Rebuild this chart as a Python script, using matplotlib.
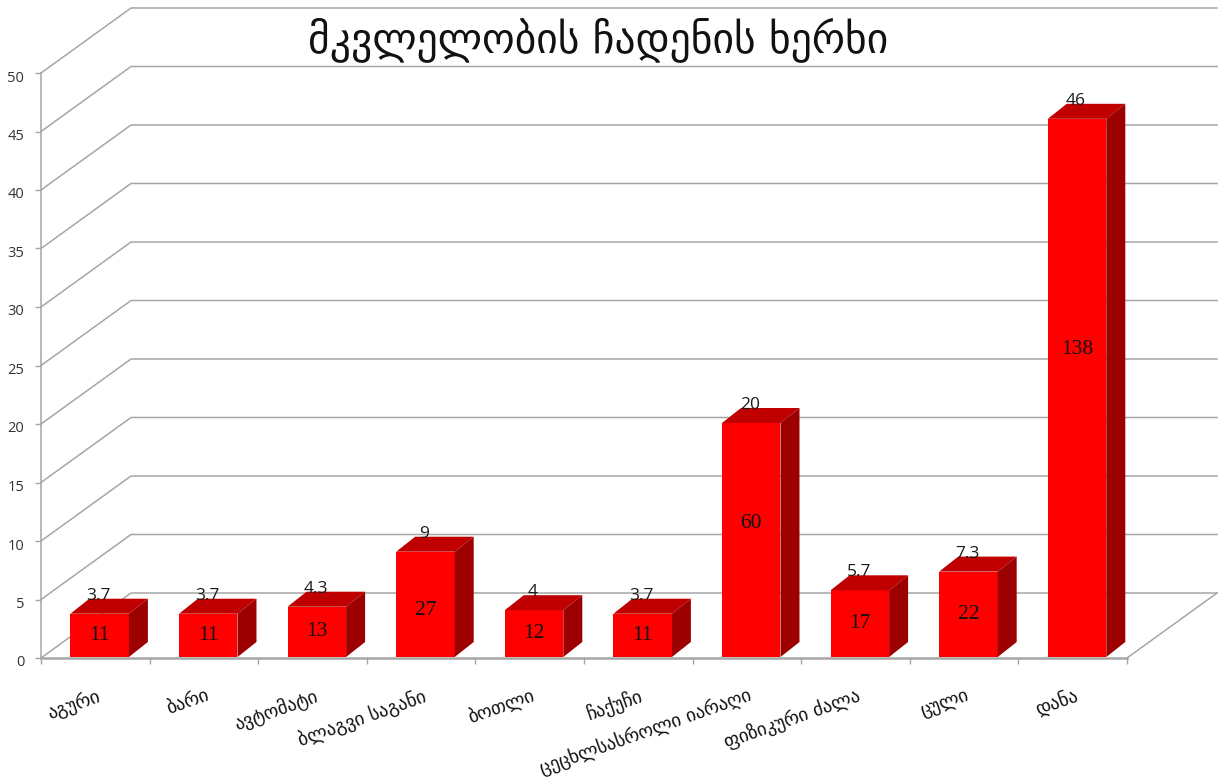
import numpy as np
from matplotlib import pyplot as plt
from matplotlib.patches import Polygon
from matplotlib.transforms import ScaledTranslation

categories = ['აგური', 'ბარი', 'ავტომატი', 'ბლაგვი საგანი', 'ბოთლი', 'ჩაქუჩი',
              'ცეცხლსასროლი იარაღი', 'ფიზიკური ძალა', 'ცული', 'დანა']
percents = [3.7, 3.7, 4.3, 9, 4, 3.7, 20, 5.7, 7.3, 46]
counts = [11, 11, 13, 27, 12, 11, 60, 17, 22, 138]
y_ticks = [0, 5, 10, 15, 20, 25, 30, 35, 40, 45, 50]
title = 'მკვლელობის ჩადენის ხერხი'

# how far the inner numbers sit from the middle of the bar (pixels)
inner_shift_px = [0, 0, 0, -6, 0, 0, 16, 0, 0, 38]

W, H = 1219, 780
LEFT, RIGHT, BOTTOM, TOP = 41, 1127, 658, 73
GRID = '#a6a6a6'

fig = plt.figure(figsize=(W / 100, H / 100), dpi=100)
ax = fig.add_axes([LEFT / W, (H - BOTTOM) / H, (RIGHT - LEFT) / W, (BOTTOM - TOP) / H])
ax.set_xlim(0, 10)
ax.set_ylim(0, 50)
ax.patch.set_visible(False)

# one pixel in data units
px_x = 10 / (RIGHT - LEFT)
px_y = 50 / (BOTTOM - TOP)

# back wall and left wall
wall_dx = 90 * px_x
wall_dy = 65 * px_y
for v in y_ticks:
    ax.plot([0, wall_dx, 10 + wall_dx], [v, v + wall_dy, v + wall_dy],
            color=GRID, lw=1.1, clip_on=False, zorder=1)
ax.plot([10, 10 + wall_dx], [0, wall_dy], color=GRID, lw=1.1, clip_on=False, zorder=1)

# bars with a top and a side face
x = np.arange(10) + 0.54
bar_w = 58.5 * px_x
depth_x = 19 * px_x
depth_y = 15 * px_y
base = 1 * px_y
ax.bar(x, percents, width=bar_w, bottom=base, color='#ff0000', zorder=3)
for xi, p in zip(x, percents):
    x0, x1 = xi - bar_w / 2, xi + bar_w / 2
    top = p + base
    ax.add_patch(Polygon([(x0, top), (x1, top), (x1 + depth_x, top + depth_y), (x0 + depth_x, top + depth_y)],
                         fc='#c00000', ec='none', clip_on=False, zorder=3))
    ax.add_patch(Polygon([(x1, base), (x1 + depth_x, base + depth_y), (x1 + depth_x, top + depth_y), (x1, top)],
                         fc='#9c0000', ec='none', clip_on=False, zorder=3))

# value labels
for xi, p, c, shift in zip(x, percents, counts, inner_shift_px):
    ax.text(xi - 1 * px_x, p + base + 18 * px_y, str(p), ha='center', va='center', fontsize=12.5,
            family='Open Sans', color='#1a1a1a', zorder=4, clip_on=False)
    ax.text(xi, base + p / 2 + shift * px_y, str(c), ha='center', va='center', fontsize=15.5,
            family='Liberation Serif', color='#111111', zorder=4)

# axes
ax.spines['top'].set_visible(False)
ax.spines['right'].set_visible(False)
ax.spines['left'].set_color(GRID)
ax.spines['bottom'].set_color(GRID)
ax.spines['left'].set_linewidth(1.1)
ax.spines['bottom'].set_linewidth(1.8)
ax.set_xticks(np.arange(11))
ax.set_xticklabels([])
ax.set_yticks(y_ticks)
ax.tick_params(axis='both', color=GRID, length=4, width=1)
ax.tick_params(axis='y', labelsize=10.5, labelcolor='#333333', pad=8)
for lab in ax.get_yticklabels():
    lab.set_family('Open Sans')
    lab.set_transform(lab.get_transform() + ScaledTranslation(0, -3 / 100, fig.dpi_scale_trans))

# rotated category labels, right end under the bar
label_y = -37 * px_y
for name, xi in zip(categories, x):
    ax.text(xi, label_y, name, ha='right', va='center', rotation=19.5, rotation_mode='anchor',
            fontsize=13.5, color='#111111', family='DejaVu Sans', clip_on=False)

fig.text(598 / W, (H - 40) / H, title, ha='center', va='center', fontsize=30,
         color='#111111', family='DejaVu Sans')

fig.savefig('out.png', dpi=100)
